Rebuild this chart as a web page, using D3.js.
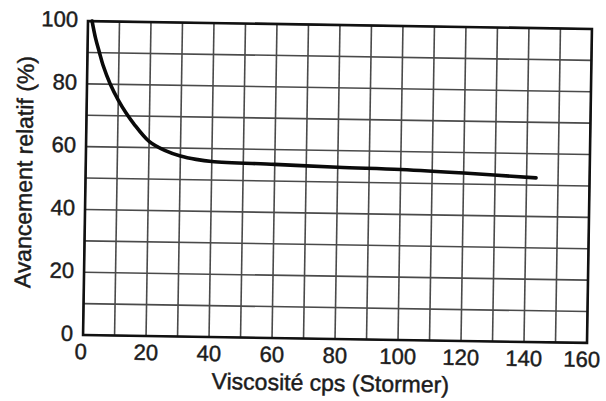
<!DOCTYPE html>
<html>
<head>
<meta charset="utf-8">
<script src="https://cdn.jsdelivr.net/npm/d3@7"></script>
<style>
  body { margin: 0; background: #fff; }
  text { font-family: "Liberation Sans", Arial, sans-serif; fill: #1c1c1c; stroke: #1c1c1c; stroke-width: 0.45; }
</style>
</head>
<body>
<div id="chart"></div>
<script>
var width = 606, height = 401;

// data
var viscosity = [1.3, 2.5, 3.8, 5, 7.4, 10, 12.5, 15, 20, 25, 30, 35, 40, 60, 80, 100, 120, 143];
var advance   = [100, 94.5, 90, 86, 80, 75, 71, 67.6, 62, 59.2, 57.5, 56.5, 55.9, 55.3, 54.7, 54.3, 53.5, 52.3];

var xTicks = [0, 20, 40, 60, 80, 100, 120, 140, 160];
var yTicks = [0, 20, 40, 60, 80, 100];
var xGrid = d3.range(0, 161, 10);
var yGrid = d3.range(0, 101, 10);

var plotLeft = 85.5, plotRight = 589.5, plotTop = 25, plotBottom = 339;

var svg = d3.select('#chart')
    .append('svg')
    .attr('width', width)
    .attr('height', height);

// the scan is tilted a little
var g = svg.append('g')
    .attr('transform', 'rotate(0.9,' + (plotLeft + plotRight) / 2 + ',' + (plotTop + plotBottom) / 2 + ')');

var x = d3.scaleLinear().domain([0, 160]).range([plotLeft, plotRight]);
var y = d3.scaleLinear().domain([0, 100]).range([plotBottom, plotTop]);

// grid
g.selectAll('.vgrid')
    .data(xGrid)
    .enter()
    .append('line')
    .attr('x1', x).attr('x2', x)
    .attr('y1', plotTop).attr('y2', plotBottom)
    .attr('stroke', '#4a4a4a')
    .attr('stroke-width', 1.6);

g.selectAll('.hgrid')
    .data(yGrid)
    .enter()
    .append('line')
    .attr('y1', y).attr('y2', y)
    .attr('x1', plotLeft).attr('x2', plotRight)
    .attr('stroke', '#4a4a4a')
    .attr('stroke-width', 1.6);

// frame
g.append('rect')
    .attr('x', plotLeft).attr('y', plotTop)
    .attr('width', plotRight - plotLeft).attr('height', plotBottom - plotTop)
    .attr('fill', 'none')
    .attr('stroke', '#111')
    .attr('stroke-width', 2.6);

// curve
var line = d3.line()
    .x(function (d, i) { return x(viscosity[i]); })
    .y(function (d) { return y(d); })
    .curve(d3.curveCatmullRom.alpha(0.5));

g.append('path')
    .datum(advance)
    .attr('d', line)
    .attr('fill', 'none')
    .attr('stroke', '#0a0a0a')
    .attr('stroke-width', 3.6)
    .attr('stroke-linecap', 'round');

// tick labels
g.selectAll('.xt')
    .data(xTicks)
    .enter()
    .append('text')
    .attr('x', function (d) { return x(d) + (d === 0 ? -2 : d === 160 ? -5 : 0); })
    .attr('y', plotBottom + 24)
    .attr('text-anchor', 'middle')
    .attr('font-size', 22)
    .text(function (d) { return d; });

g.selectAll('.yt')
    .data(yTicks)
    .enter()
    .append('text')
    .attr('x', plotLeft - 10)
    .attr('y', function (d) { return y(d) + 6; })
    .attr('text-anchor', 'end')
    .attr('font-size', 22)
    .text(function (d) { return d; });

// axis titles
g.append('text')
    .attr('x', (plotLeft + plotRight) / 2 - 4)
    .attr('y', 391)
    .attr('text-anchor', 'middle')
    .attr('font-size', 23)
    .text('Viscosité cps (Stormer)');

g.append('text')
    .attr('transform', 'translate(32,177) rotate(-90)')
    .attr('text-anchor', 'middle')
    .attr('font-size', 23)
    .text('Avancement relatif (%)');
</script>
</body>
</html>
